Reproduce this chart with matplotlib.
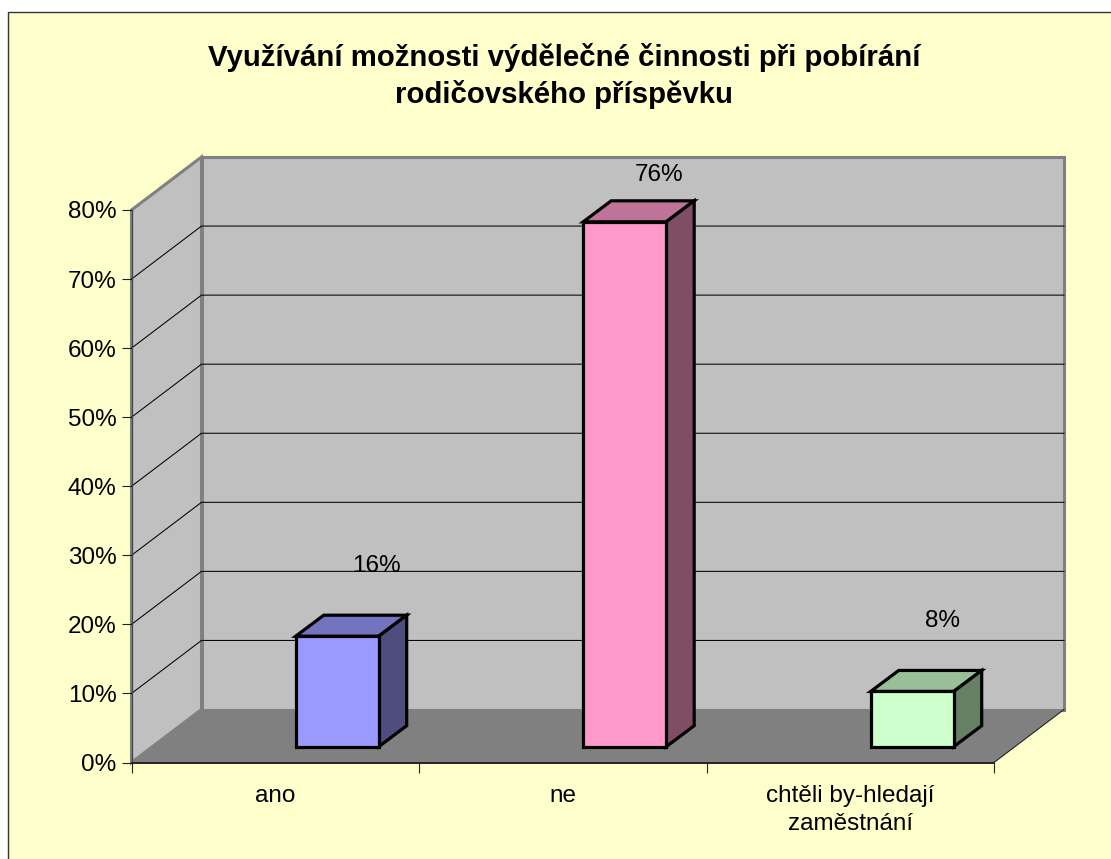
import matplotlib
matplotlib.use("Agg")
import matplotlib.pyplot as plt
from matplotlib.patches import Polygon, Rectangle
from matplotlib.ticker import FixedLocator, FixedFormatter

plt.rcParams['font.family'] = ['Liberation Sans', 'DejaVu Sans']

title = "Využívání možnosti výdělečné činnosti při pobírání\nrodičovského příspěvku"
categories = ["ano", "ne", "chtěli by-hledají\nzaměstnání"]
values = [16, 76, 8]
value_labels = ["16%", "76%", "8%"]
y_ticks = [0, 10, 20, 30, 40, 50, 60, 70, 80]
y_tick_labels = ["0%", "10%", "20%", "30%", "40%", "50%", "60%", "70%", "80%"]
front_colors = ["#9999FF", "#FF99CC", "#CCFFCC"]
top_colors = ["#7373BF", "#BF7399", "#99BF99"]
side_colors = ["#4D4D80", "#804D66", "#668066"]

W, H = 1111, 859
fig = plt.figure(figsize=(W / 100, H / 100), dpi=100, facecolor="white")

# frame
fig.add_artist(Rectangle((8 / W, 1 - 12 / H), 1.2, -1.2, transform=fig.transFigure,
                         facecolor="#FFFFCC", edgecolor="#333333", linewidth=1.0, zorder=-5))

L, R, T, B = 131.5, 994, 210, 762.5
ax = fig.add_axes([L / W, 1 - B / H, (R - L) / W, (B - T) / H])
ax.set_xlim(0, 3)
ax.set_ylim(0, 80)
ax.patch.set_visible(False)

px = 3 / (R - L)      # data x per pixel
py = 80 / (B - T)     # data y per pixel
wx, wy = 70 * px, 53 * py    # wall depth
ymax = 80

GRAY = "#808080"
WALL = "#C0C0C0"
# back wall & side wall
ax.add_patch(Polygon([(wx, wy), (3 + wx, wy), (3 + wx, ymax + wy), (wx, ymax + wy)], closed=True,
                     facecolor=WALL, edgecolor=GRAY, linewidth=2.2, clip_on=False, zorder=1))
ax.add_patch(Polygon([(0, 0), (wx, wy), (wx, ymax + wy), (0, ymax)], closed=True,
                     facecolor=WALL, edgecolor=GRAY, linewidth=2.2, clip_on=False, zorder=1))
# floor
ax.add_patch(Polygon([(0, 0), (3, 0), (3 + wx, wy), (wx, wy)], closed=True,
                     facecolor=GRAY, edgecolor="none", clip_on=False, zorder=2))
ax.plot([3, 3 + wx], [0, wy], color="#222222", lw=0.8, clip_on=False, zorder=2)

# gridlines
for t in y_ticks[1:-1]:
    ax.plot([0, wx, 3 + wx], [t, t + wy, t + wy], color="black", lw=0.75, clip_on=False,
            zorder=3, solid_joinstyle="miter")

# bars
bar_off = 164.2 * px
bar_w = 83 * px
dx, dy = 28 * px, 21 * py
base = 15.8 * py
label_off = [(39, 70), (34, 47), (30, 70)]
for i, v in enumerate(values):
    x0 = i + bar_off
    x1 = x0 + bar_w
    y0 = base
    y1 = base + v
    kw = dict(closed=True, edgecolor="black", linewidth=2.3, clip_on=False, zorder=4,
              joinstyle="miter")
    ax.add_patch(Polygon([(x0, y1), (x1, y1), (x1 + dx, y1 + dy), (x0 + dx, y1 + dy)],
                         facecolor=top_colors[i], **kw))
    ax.add_patch(Polygon([(x1, y0), (x1 + dx, y0 + dy), (x1 + dx, y1 + dy), (x1, y1)],
                         facecolor=side_colors[i], **kw))
    ax.add_patch(Polygon([(x0, y0), (x1, y0), (x1, y1), (x0, y1)],
                         facecolor=front_colors[i], **kw))
    ox, oy = label_off[i]
    ax.annotate(value_labels[i], xy=((x0 + x1) / 2, y1), xytext=(ox * .72, oy * .72),
                textcoords="offset points", ha="center", va="center",
                fontsize=17.5, color="black", zorder=6, annotation_clip=False)

# axes
for s in ("top", "right"):
    ax.spines[s].set_visible(False)
ax.spines["left"].set_color("#444444")
ax.spines["left"].set_linewidth(0.9)
ax.spines["bottom"].set_color("#222222")
ax.spines["bottom"].set_linewidth(1.4)
for s in ax.spines.values():
    s.set_zorder(5)
ax.set_yticks(y_ticks)
ax.set_yticklabels(y_tick_labels, fontsize=17.5)
ax.tick_params(axis="y", length=7.2, width=0.8, pad=3.5, color="#222222")
ax.xaxis.set_major_locator(FixedLocator([0, 1, 2, 3]))
ax.xaxis.set_major_formatter(FixedFormatter(["", "", "", ""]))
ax.xaxis.set_minor_locator(FixedLocator([0.5, 1.5, 2.5]))
ax.xaxis.set_minor_formatter(FixedFormatter(categories))
ax.tick_params(axis="x", which="major", length=7.2, width=0.8, color="#222222")
ax.tick_params(axis="x", which="minor", length=0, labelsize=17.5, pad=16)
for lab in ax.xaxis.get_minorticklabels():
    lab.set_linespacing(1.39)

fig.text(564 / W, 1 - 76 / H, title, ha="center", va="center", fontsize=21.2,
         fontweight="bold", linespacing=1.37, color="black")

fig.savefig("out.png", dpi=100, facecolor=fig.get_facecolor())
